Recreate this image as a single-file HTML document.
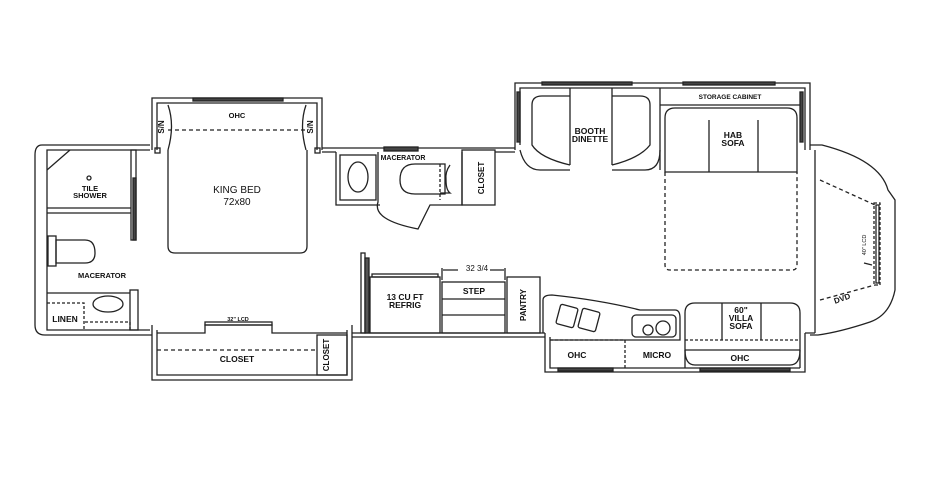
<!DOCTYPE html>
<html><head><meta charset="utf-8"><style>
html,body{margin:0;padding:0;background:#fff;}
svg{display:block;}
text{font-family:"Liberation Sans",sans-serif;font-weight:bold;fill:#111;text-anchor:middle;}
.n{font-weight:normal;}
</style></head><body>
<svg width="932" height="480" viewBox="0 0 932 480" xmlns="http://www.w3.org/2000/svg">
<g fill="none" stroke="#222" stroke-width="1.3">
<path d="M150 145 H42 Q35 145 35 155 V325 Q35 335 45 335 H150"/>
<path d="M150 150 H47 V330 H150"/>
<line x1="47" y1="208" x2="131" y2="208"/><line x1="47" y1="213" x2="131" y2="213"/>
<line x1="47" y1="170" x2="70" y2="150"/>
<rect x="131" y="150" width="5" height="90"/><rect x="133" y="178" width="3" height="62" fill="#444"/>
<circle cx="89" cy="178" r="2"/>
<rect x="48" y="236" width="8" height="30"/>
<path d="M56 240 H85 Q95 240 95 253 Q95 263 85 263 H56Z"/>
<line x1="47" y1="293" x2="130" y2="293"/>
<rect x="130" y="290" width="8" height="40"/>
<path d="M47 303 H84 V330" stroke-dasharray="3,2"/>
<path d="M85 322 H130" stroke-dasharray="3,2"/><line x1="130" y1="322" x2="130" y2="330" stroke-dasharray="3,2"/>
<ellipse cx="108" cy="304" rx="15" ry="8"/>
<path d="M152 150 V98 H322 V150"/>
<path d="M157 150 V103 H317 V150"/>
<rect x="193" y="98" width="90" height="3" fill="#444"/>
<line x1="168" y1="130" x2="306" y2="130" stroke-dasharray="4,3"/>
<path d="M168 105 Q175 125 168 150 M306 105 Q299 125 306 150"/>
<path d="M168 150 V246 Q168 253 175 253 H300 Q307 253 307 246 V150"/>
<path d="M322 148 H515 M322 152 H336 M495 152 H515"/>
<rect x="155" y="148" width="5" height="5"/><rect x="315" y="148" width="5" height="5"/>
<path d="M336 152 V205 H380 M378 152 V202 Q372 220 418 229 L430 205 H462 V152"/>
<rect x="340" y="155" width="36" height="45"/>
<ellipse cx="358" cy="177" rx="10" ry="15"/>
<rect x="384" y="147" width="34" height="4" fill="#444"/>
<path d="M450 165 Q445 172 446 180 Q446 190 450 193 H440" />
<path d="M440 164 V200" stroke-dasharray="3,2"/>
<path d="M415 164 Q400 164 400 180 Q400 194 415 194 H445 V164 Z"/>
<rect x="462" y="150" width="33" height="55"/>
<path d="M515 150 V83 H810 V150"/>
<path d="M520 145 V88 H805 V150"/>
<rect x="542" y="82" width="90" height="3" fill="#444"/><rect x="683" y="82" width="92" height="3" fill="#444"/>
<rect x="517" y="92" width="3" height="50" fill="#444"/><rect x="800" y="92" width="3" height="50" fill="#444"/>
<path d="M570 88 V165 M612 88 V165 M660 88 V170"/>
<path d="M570 165 Q540 158 532 145 V105 Q532 96 542 96 H570"/>
<path d="M612 165 Q640 158 650 145 V105 Q650 96 640 96 H612"/>
<path d="M520 150 Q525 170 540 170 H570 M612 170 H645 Q660 170 660 150"/>
<line x1="660" y1="105" x2="800" y2="105"/>
<path d="M665 172 V118 Q665 108 675 108 H787 Q797 108 797 118 V172 Z"/>
<path d="M709 120 V172 M758 120 V172"/>
<path d="M665 172 V265 Q665 270 670 270 H792 Q797 270 797 265 V172" stroke-dasharray="4,3"/>
<path d="M810 145 H822 Q880 160 888 190 L895 200 V290 Q890 315 870 322 Q840 332 818 335 H810"/>
<path d="M815 150 V333"/>
<path d="M820 180 L875 205 M820 300 L875 285" stroke-dasharray="4,3"/>
<rect x="874" y="203" width="6" height="82" stroke-dasharray="3,2"/>
<rect x="876" y="205" width="3" height="78"/>
<path d="M872 265 L864 263"/>
<path d="M150 335 H152 M352 333 H545 M352 337 H545 M805 333 H815"/>
<path d="M152 325 V380 H352 V325"/>
<path d="M157 330 V375 H347 V330"/>
<path d="M157 333 H205 V325 H272 V333 H347"/>
<rect x="205" y="322" width="67" height="3"/>
<line x1="157" y1="350" x2="317" y2="350" stroke-dasharray="4,3"/>
<rect x="317" y="335" width="30" height="40"/>
<rect x="361" y="253" width="4" height="80"/><rect x="365" y="258" width="4" height="75" fill="#555"/>
<rect x="370" y="277" width="70" height="56"/><rect x="372" y="274" width="66" height="3"/>
<rect x="442" y="282" width="63" height="51"/><line x1="442" y1="299" x2="505" y2="299"/><line x1="442" y1="315" x2="505" y2="315"/>
<path d="M442 268 V280 M505 268 V280 M443 270 H458 M490 270 H504"/>
<rect x="507" y="277" width="33" height="56"/>
<path d="M545 333 V372 H805 V333"/>
<path d="M550 337 V368 H800"/>
<rect x="558" y="368" width="55" height="3" fill="#444"/><rect x="700" y="368" width="90" height="3" fill="#444"/>
<path d="M543 333 V300 Q543 295 552 295 Q600 300 640 310 H675 Q680 310 680 318 V340 H550"/>
<path d="M550 340 H625 M625 340 V368" stroke-dasharray="3,2"/>
<rect x="558" y="306" width="18" height="20" rx="2" transform="rotate(15 567 316)"/>
<rect x="580" y="310" width="18" height="20" rx="2" transform="rotate(15 589 320)"/>
<rect x="632" y="315" width="44" height="22" rx="4"/><circle cx="648" cy="330" r="5"/><circle cx="663" cy="328" r="7"/>
<path d="M685 368 V313 Q685 303 695 303 H790 Q800 303 800 313 V368"/>
<path d="M685 340 H800" stroke-dasharray="3,2"/>
<path d="M722 303 V340 M761 303 V340"/>
<path d="M685 350 Q685 365 695 365 H790 Q800 365 800 350"/>
<line x1="685" y1="350" x2="800" y2="350"/>
</g>
<g font-size="7.5">
<text x="237" y="118">OHC</text>
<text x="237" y="193" class="n" font-size="10">KING BED</text>
<text x="237" y="205" class="n" font-size="10">72x80</text>
<text x="90" y="191">TILE</text><text x="90" y="198">SHOWER</text>
<text x="102" y="278">MACERATOR</text>
<text x="65" y="322" font-size="8.5">LINEN</text>
<text x="238" y="321" font-size="5.5">32" LCD</text>
<text x="237" y="362" font-size="8.5">CLOSET</text>
<text transform="translate(329,355) rotate(-90)" font-size="8">CLOSET</text>
<text transform="translate(164,127) rotate(-90)" font-size="8">S/N</text>
<text transform="translate(313,127) rotate(-90)" font-size="8">S/N</text>
<text x="403" y="160" font-size="7">MACERATOR</text>
<text transform="translate(484,178) rotate(-90)" font-size="8">CLOSET</text>
<text x="590" y="134" font-size="8.5">BOOTH</text><text x="590" y="142" font-size="8.5">DINETTE</text>
<text x="730" y="99" font-size="6.5">STORAGE CABINET</text>
<text x="733" y="138" font-size="8.5">HAB</text><text x="733" y="146" font-size="8.5">SOFA</text>
<text x="477" y="271" class="n" font-size="8">32 3/4</text>
<text x="405" y="300" font-size="8.5">13 CU FT</text><text x="405" y="308" font-size="8.5">REFRIG</text>
<text x="474" y="294" font-size="8.5">STEP</text>
<text transform="translate(526,305) rotate(-90)" font-size="8">PANTRY</text>
<text x="577" y="358" font-size="8.5">OHC</text>
<text x="657" y="358" font-size="8.5">MICRO</text>
<text x="740" y="361" font-size="8.5">OHC</text>
<text x="741" y="313" font-size="8.5">60"</text><text x="741" y="321" font-size="8.5">VILLA</text><text x="741" y="329" font-size="8.5">SOFA</text>
<text transform="translate(843,301) rotate(-20)" font-size="8">DVD</text>
<text transform="translate(866,245) rotate(-90)" font-size="5.5" class="n">40" LCD</text>
</g>
</svg>
</body></html>
